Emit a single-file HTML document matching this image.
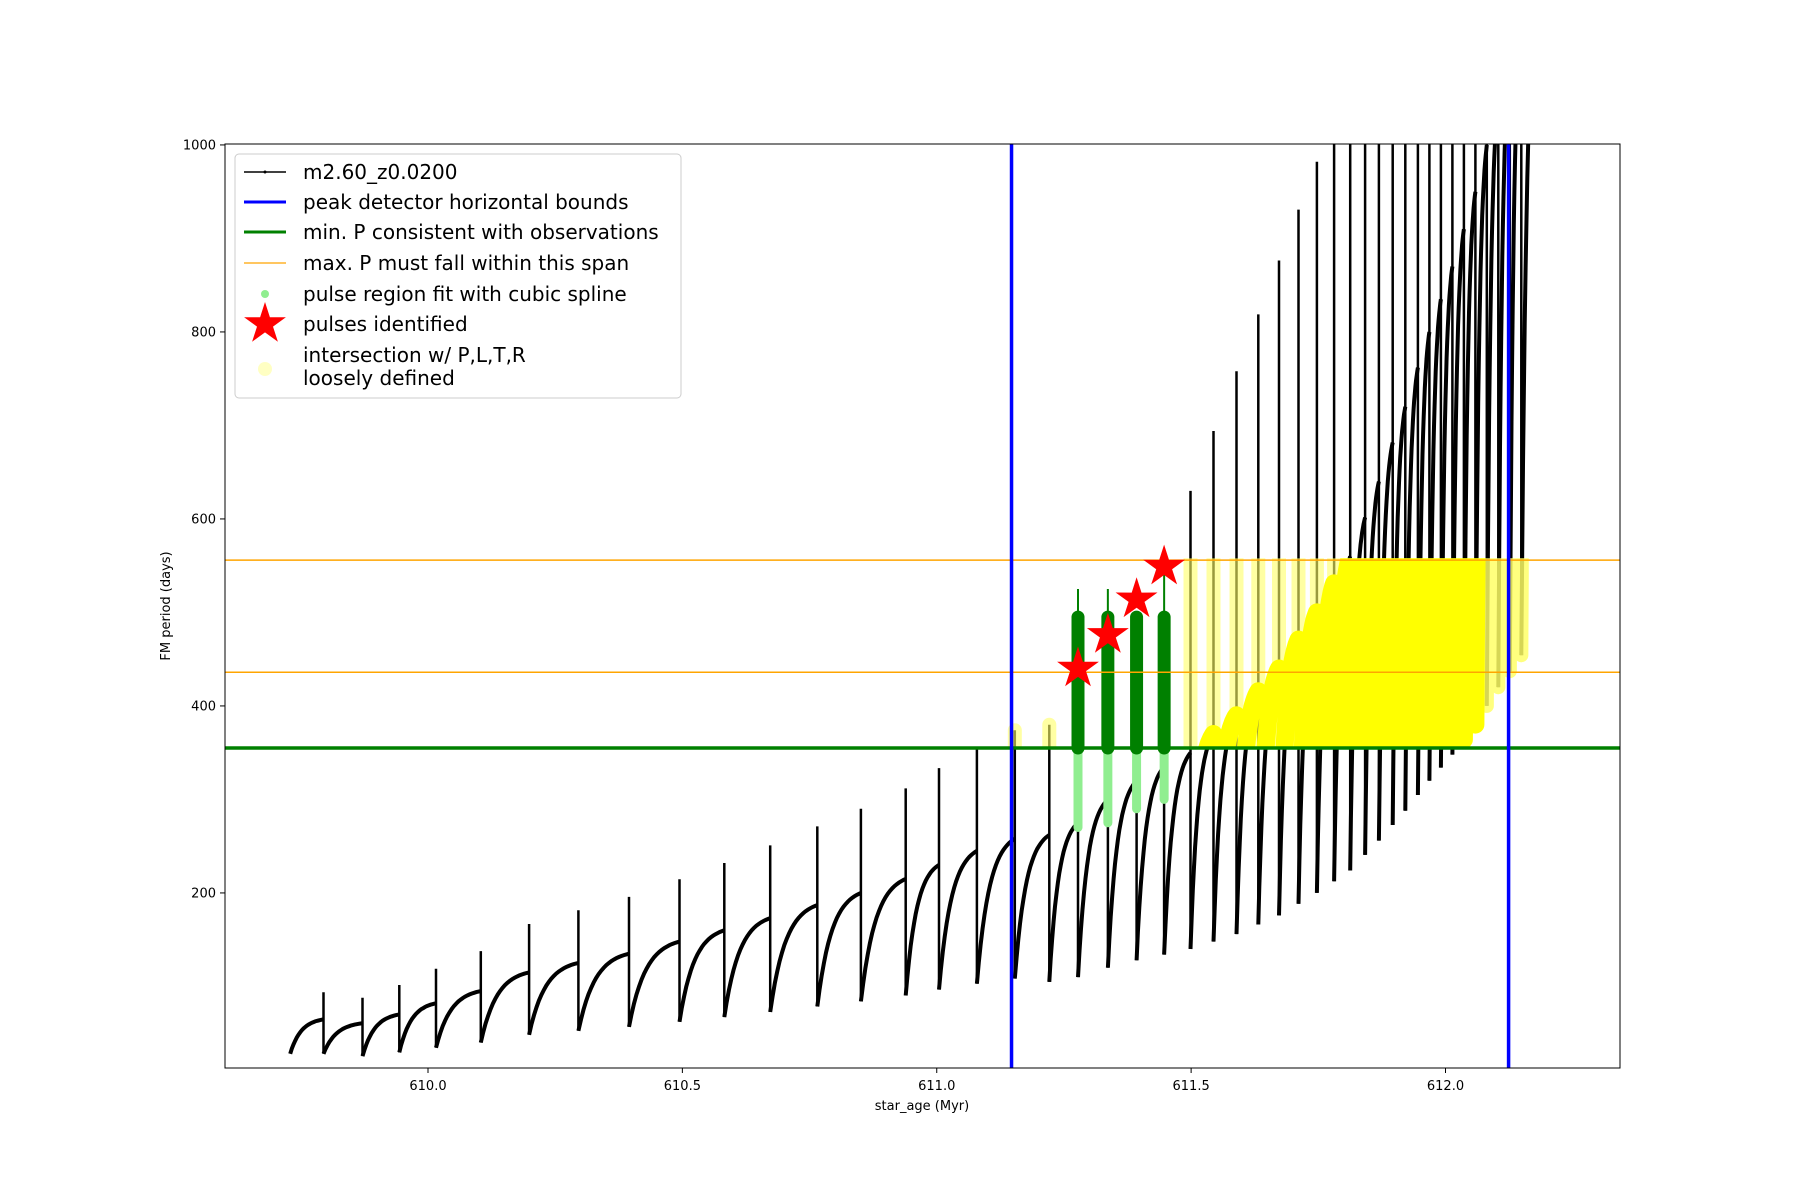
<!DOCTYPE html>
<html><head><meta charset="utf-8"><style>
html,body{margin:0;padding:0;background:#fff;}
svg{display:block;font-family:"DejaVu Sans","Liberation Sans",sans-serif;}
</style></head><body>
<svg id="s" width="1800" height="1200" xmlns="http://www.w3.org/2000/svg">
<rect width="1800" height="1200" fill="#fff"/>
<defs>
<clipPath id="ax"><rect x="225" y="144" width="1395" height="924"/></clipPath>
<clipPath id="band"><rect id="bandr" x="1000" y="559" width="700" height="189"/></clipPath>
</defs>
<g id="plot" clip-path="url(#ax)"></g>
<rect x="225" y="144" width="1395" height="924" fill="none" stroke="#000" stroke-width="1"/>
<g font-size="13" fill="#000" id="ticks"></g>
<text x="922" y="1110" font-size="13" text-anchor="middle">star_age (Myr)</text>
<text x="0" y="0" font-size="13" text-anchor="middle" transform="translate(170,606) rotate(-90)">FM period (days)</text>
<g id="legend">
<rect x="235" y="154" width="446" height="244" rx="4" fill="#fff" fill-opacity="0.85" stroke="#ccc"/>
<line x1="244" y1="172" x2="286" y2="172" stroke="#000" stroke-width="1.5"/><circle cx="265" cy="172" r="1.5"/>
<line x1="244" y1="202" x2="286" y2="202" stroke="#00f" stroke-width="3"/>
<line x1="244" y1="232" x2="286" y2="232" stroke="#008000" stroke-width="3"/>
<line x1="244" y1="263" x2="286" y2="263" stroke="orange" stroke-width="1.2"/>
<circle cx="265" cy="294" r="4" fill="#90ee90"/>
<g font-size="20" fill="#000">
<text x="303" y="179">m2.60_z0.0200</text>
<text x="303" y="209">peak detector horizontal bounds</text>
<text x="303" y="239">min. P consistent with observations</text>
<text x="303" y="270">max. P must fall within this span</text>
<text x="303" y="301">pulse region fit with cubic spline</text>
<text x="303" y="331">pulses identified</text>
<text x="303" y="362">intersection w/ P,L,T,R</text>
<text x="303" y="385">loosely defined</text>
</g>
<circle cx="265" cy="369" r="7" fill="#ffffaa" fill-opacity="0.7"/>
</g>
</svg>
<script>
var NS="http://www.w3.org/2000/svg";
function X(a){return 225+(a-609.601)/(612.343-609.601)*1395;}
function Y(v){return 144+(1001-v)*0.935;}
function D(xd){return 610+(xd-373)/443;}
function el(p,t,at){var e=document.createElementNS(NS,t);for(var k in at)e.setAttribute(k,at[k]);p.appendChild(e);return e;}
var br=document.getElementById('bandr');
br.setAttribute('x',X(611.13));br.setAttribute('y',Y(558));br.setAttribute('height',Y(354)-Y(558));
var plot=document.getElementById('plot');
var drops=[253,282,316,348,380,419,461,504,548,592,631,671,712,750,789,818,851,884,914,939,965,990,1014,1037,1057,1077,1096,1114,1131,1147,1162,1176,1189,1201,1213,1224,1235,1245,1255,1265,1275,1285,1295,1305,1315,1325,1340];
var pk=[[253,40],[280,65],[314,60],[348,70],[380,82],[419,95],[461,115],[503,125],[548,135],[592,148],[631,160],[671,173],[712,187],[750,200],[789,215],[818,230],[851,245],[884,258],[914,262],[939,275],[965,300],[990,320],[1014,335],[1037,350],[1077,390],[1114,440],[1147,500],[1176,560],[1201,640],[1224,720],[1245,800],[1265,870],[1285,950],[1305,1050],[1340,1200]];
function P(x){for(var i=0;i<pk.length-1;i++){if(x<=pk[i+1][0]){var t=(x-pk[i][0])/(pk[i+1][0]-pk[i][0]);return pk[i][1]+t*(pk[i+1][1]-pk[i][1]);}}return 1200;}
function T(x){if(x<300)return 28;return P(x)*(x<900?0.42:0.4);}
function S(x){if(x<1030)return P(x)*1.45;return Math.min(1100,630+(x-1037)*3.2);}
var blk="",spk="",yel="",yel2="",yspk="";
for(var i=0;i<drops.length-1;i++){
 var d0=drops[i],d1=drops[i+1];var t0=T(d0),p1=P(d1);
 var s="M"+X(D(d0)).toFixed(1)+","+Y(t0).toFixed(1);
 var k=3.0;
 for(var j=1;j<=20;j++){var u=j/20;var f=(1-Math.exp(-k*u))/(1-Math.exp(-k));var xd=d0+(d1-d0)*u;s+="L"+X(D(xd)).toFixed(1)+","+Y(t0+(p1-t0)*f).toFixed(1);}
 blk+=s;
 if(d0>=1030&&d0<1295)yel+=s; else if(d0>=1295)yel2+=s;
 if(i>0){var sp="M"+X(D(d0)).toFixed(1)+","+Y(t0).toFixed(1)+"V"+Y(S(d0)).toFixed(1);spk+=sp;
  if(d0>=880&&!(d0>=930&&d0<=1020))yspk+=sp;}
}
el(plot,'path',{d:blk,fill:'none',stroke:'#000','stroke-width':4});
el(plot,'path',{d:spk,fill:'none',stroke:'#000','stroke-width':2.5});
var gp=[[939,270,495,525,440],[965,275,495,525,476],[990,290,495,495,514],[1014,300,495,555,549]];
gp.forEach(function(g){var x=X(D(g[0]));
 el(plot,'line',{x1:x,x2:x,y1:Y(g[1]),y2:Y(355),stroke:'#90ee90','stroke-width':9,'stroke-linecap':'round'});
 el(plot,'line',{x1:x,x2:x,y1:Y(355),y2:Y(g[3]),stroke:'#008000','stroke-width':2});
 el(plot,'line',{x1:x,x2:x,y1:Y(355),y2:Y(g[2]),stroke:'#008000','stroke-width':13,'stroke-linecap':'round'});
});
var band=el(plot,'g',{'clip-path':'url(#band)'});
el(band,'path',{d:yspk,fill:'none',stroke:'#ffff66','stroke-opacity':0.6,'stroke-width':14,'stroke-linecap':'round'});
el(band,'path',{d:yel2,fill:'none',stroke:'#ffff66','stroke-opacity':0.6,'stroke-width':14,'stroke-linecap':'round'});
el(band,'path',{d:yel,fill:'none',stroke:'#ffff00','stroke-width':18,'stroke-linecap':'round'});
el(plot,'line',{x1:225,x2:1620,y1:Y(556),y2:Y(556),stroke:'orange','stroke-width':1.5});
el(plot,'line',{x1:225,x2:1620,y1:Y(436),y2:Y(436),stroke:'orange','stroke-width':1.5});
el(plot,'line',{x1:225,x2:1620,y1:Y(355),y2:Y(355),stroke:'#008000','stroke-width':3.5});
[611.147,612.124].forEach(function(a){el(plot,'line',{x1:X(a),x2:X(a),y1:144,y2:1068,stroke:'#00f','stroke-width':3.5});});
function star(cx,cy,R){var r=R*0.38,p="";for(var k=0;k<10;k++){var a=-Math.PI/2+k*Math.PI/5;var rr=k%2?r:R;p+=(cx+rr*Math.cos(a)).toFixed(1)+","+(cy+rr*Math.sin(a)).toFixed(1)+" ";}return p;}
gp.forEach(function(g){el(plot,'polygon',{points:star(X(D(g[0])),Y(g[4]),22),fill:'red'});});
el(document.getElementById('legend'),'polygon',{points:star(265,324,22),fill:'red'});
var tk=document.getElementById('ticks');
[610,610.5,611,611.5,612].forEach(function(a){var x=X(a);el(tk,'line',{x1:x,x2:x,y1:1068,y2:1073,stroke:'#000'});var t=el(tk,'text',{x:x,y:1090,'text-anchor':'middle'});t.textContent=a.toFixed(1);});
[200,400,600,800,1000].forEach(function(v){var y=Y(v);el(tk,'line',{x1:220,x2:225,y1:y,y2:y,stroke:'#000'});var t=el(tk,'text',{x:216,y:y+4.5,'text-anchor':'end'});t.textContent=v;});
</script>
</body></html>
